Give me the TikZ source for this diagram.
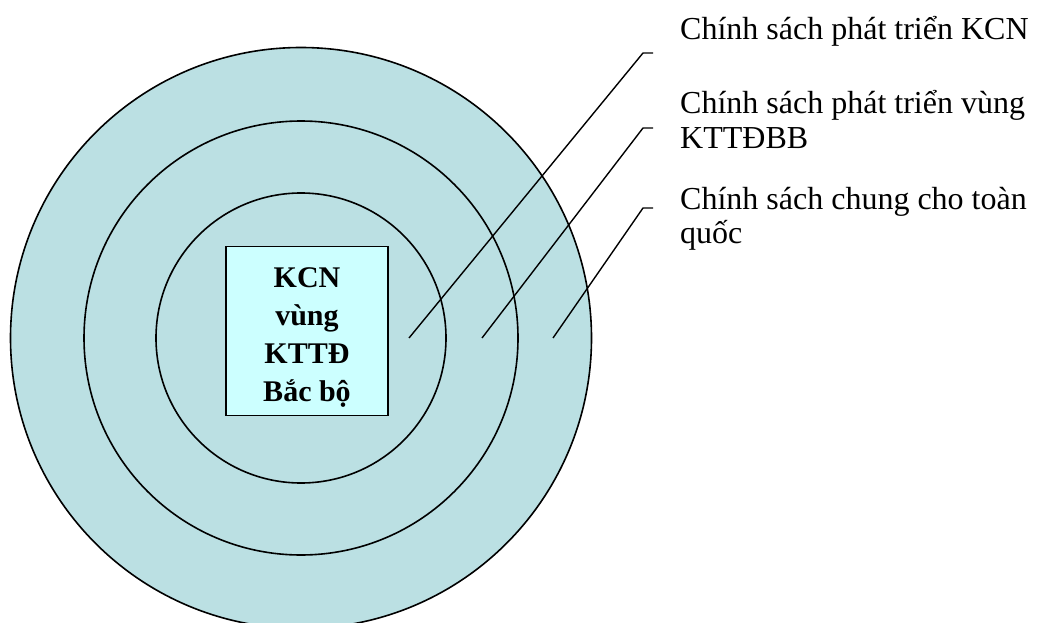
\documentclass[tikz,border=0pt]{standalone}
\usepackage{fontspec}
\setmainfont{Liberation Serif}
\definecolor{ringfill}{RGB}{187,224,227}
\definecolor{corefill}{RGB}{204,255,255}

\begin{document}
\begin{tikzpicture}[x=1pt, y=-1pt,
                    ring/.style={circle, draw, fill=ringfill, line width=1.6pt, inner sep=0pt},
                    policy/.style={anchor=base west, align=left, inner sep=0pt,
                                   font=\fontsize{32}{34}\selectfont},
                    pointer/.style={line width=1.4pt}]

\useasboundingbox (0,0) rectangle (1041,623);
\clip (0,0) rectangle (1041,623);

% Rings
\node[ring, minimum size=581pt] (outer)  at (301,338) {};
\node[ring, minimum size=434pt] (middle) at (301,338) {};
\node[ring, minimum size=290pt] (inner)  at (301,338) {};

% Core box
\node[draw, fill=corefill, line width=1.3pt, minimum width=162pt, minimum height=169pt]
      (core) at (307,331) {};
\node[align=center, font=\bfseries\fontsize{30}{38}\selectfont] (corelabel)
      at ([yshift=-7pt]core.center) {KCN\\vùng\\KTTĐ\\Bắc bộ};

% Labels (base = last line)
\node[policy] (pol1) at (680,40)  {Chính sách phát triển KCN};
\node[policy] (pol2) at (680,148) {Chính sách phát triển vùng\\KTTĐBB};
\node[policy] (pol3) at (680,243) {Chính sách chung cho toàn\\quốc};

% Pointer ends
\coordinate (p1) at (409,338);
\coordinate (p2) at (482,338);
\coordinate (p3) at (553,338);
\coordinate (k1) at (643,53);
\coordinate (k2) at (643,128);
\coordinate (k3) at (643,208);
\coordinate (t1) at (653,53);
\coordinate (t2) at (653,128);
\coordinate (t3) at (653,208);

% Pointers
\draw[pointer] (p1) -- (k1) -- (t1);
\draw[pointer] (p2) -- (k2) -- (t2);
\draw[pointer] (p3) -- (k3) -- (t3);

\end{tikzpicture}
\end{document}
